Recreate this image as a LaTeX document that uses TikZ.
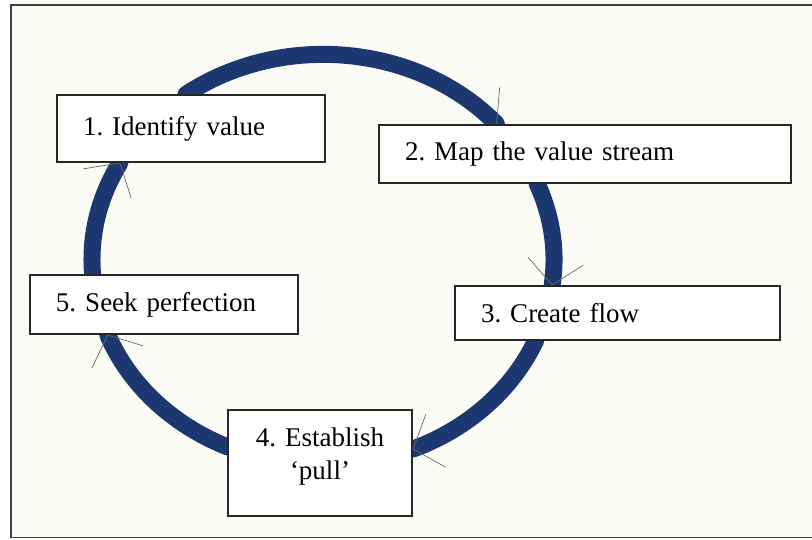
\documentclass[tikz,border=0pt]{standalone}
\usepackage{fontspec}
\setmainfont{Liberation Serif}
\usetikzlibrary{arrows.meta,backgrounds}
\frenchspacing

\definecolor{ringblue}{RGB}{29,56,112}
\definecolor{paper}{RGB}{252,252,247}
\definecolor{tipgray}{RGB}{105,105,105}

\begin{document}
\begin{tikzpicture}[x=1pt,y=1pt,>={Straight Barb[length=24pt,width=56pt,line width=0.7pt,color=tipgray]},
    stepbox/.style={draw=black!85,line width=1.2pt,fill=white,inner xsep=26pt,align=left,font=\fontsize{27}{33}\selectfont},
    ring/.style={draw=ringblue,line width=17pt,line cap=round}]
    \useasboundingbox (0,0) rectangle (812,539);

    \node[stepbox,text width=216pt,minimum height=67pt] (A) at (191,410.5) {1. Identify value};
    \node[stepbox,text width=360pt,minimum height=58pt] (B) at (585,385) {2. Map the value stream};
    \node[stepbox,text width=273pt,minimum height=54pt] (C) at (617.5,226) {3. Create flow};
    \node[stepbox,inner xsep=12pt,text width=160pt,minimum height=106pt,align=center,text depth=51pt] (D) at (320,76) {4. Establish\\‘pull’};
    \node[stepbox,text width=216pt,minimum height=59pt] (E) at (164,234.5) {5. Seek perfection};

    % paper, frame and the cycle behind the boxes
    \begin{scope}[on background layer]
        \fill[paper] (11,1.5) rectangle (812,534);
        \draw[black!75,line width=1.5pt] (812,534) -- (11,534) -- (11,1.5) -- (812,1.5);
        \path[ring,->]
        ([xshift=-5.1pt]A.north) edge[out=33.2,in=134.6,out distance=115.5pt,in distance=112.7pt] ([xshift=-88.1pt]B.north)
        ([xshift=-47.9pt]B.south) edge[out=294.6,in=81.8,out distance=35.9pt,in distance=35.3pt] ([xshift=-65.4pt]C.north)
        ([xshift=-81.8pt]C.south) edge[out=244.5,in=20.3,out distance=54.6pt,in distance=59.4pt] ([yshift=13.8pt]D.east)
        ([yshift=16.1pt]D.west) edge[out=158.2,in=293.6,out distance=59.5pt,in distance=54.8pt] ([xshift=-56.4pt]E.south)
        ([xshift=-71.4pt]E.north) edge[out=94.7,in=238.5,out distance=39.4pt,in distance=40.5pt] ([xshift=-70.9pt]A.south);
    \end{scope}
\end{tikzpicture}
\end{document}
